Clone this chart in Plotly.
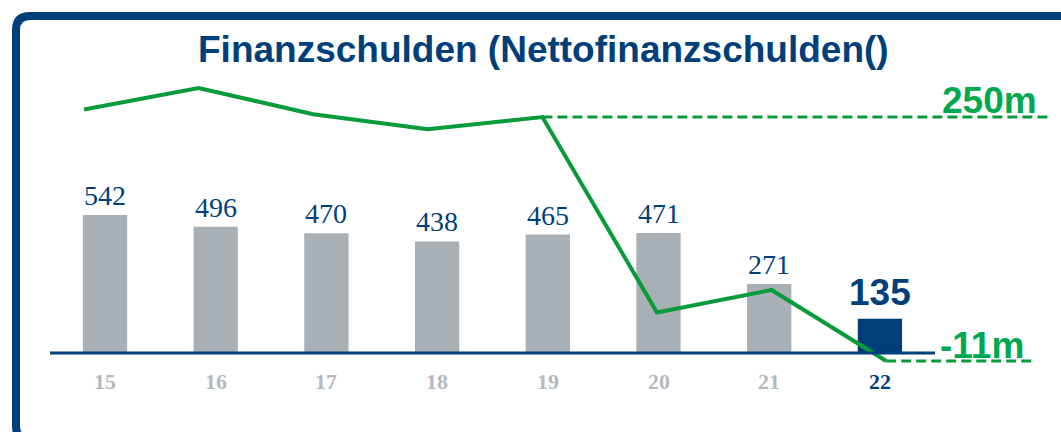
import plotly.graph_objects as go

# ---- data ----
years = ["15", "16", "17", "18", "19", "20", "21", "22"]
debt = [542, 496, 470, 438, 465, 471, 271, 135]
line_vals = [258, 281, 253, 237, 250, 41, 65, -11]
title_text = "Finanzschulden (Nettofinanzschulden()"
label_hi = "250m"
label_lo = "-11m"

W, H = 1061, 432
BLUE = "#003f7a"
GRAY = "#a8b0b6"
GREEN_LINE = "#079b3a"
GREEN_TXT = "#00a84f"

n = len(years)
xpos = list(range(n))
bar_colors = [GRAY] * (n - 1) + [BLUE]

fig = go.Figure()
fig.add_trace(go.Bar(x=xpos, y=debt, marker=dict(color=bar_colors, line=dict(width=0)),
                     width=0.4, xaxis="x", yaxis="y", hoverinfo="skip"))
fig.add_trace(go.Scatter(x=xpos, y=line_vals, mode="lines",
                         line=dict(color=GREEN_LINE, width=4), xaxis="x2", yaxis="y2",
                         hoverinfo="skip"))
# dashed guides from the 19 value and the 22 value
fig.add_trace(go.Scatter(x=[4, 8.43], y=[line_vals[4], line_vals[4]], mode="lines",
                         line=dict(color=GREEN_LINE, width=3, dash="10px,5px"),
                         xaxis="x2", yaxis="y2", hoverinfo="skip"))
fig.add_trace(go.Scatter(x=[7, 8.30], y=[line_vals[7], line_vals[7]], mode="lines",
                         line=dict(color=GREEN_LINE, width=3, dash="10px,5px"),
                         xaxis="x2", yaxis="y2", hoverinfo="skip"))

annotations = []
for i, v in enumerate(debt):
    last = i == n - 1
    annotations.append(dict(
        x=i, y=v, xref="x", yref="y",
        text=("<b>%d</b>" % v) if last else str(v), showarrow=False,
        yanchor="bottom", yshift=2 if not last else 4,
        font=dict(family="Liberation Sans" if last else "Liberation Serif",
                  size=37 if last else 28, color=BLUE)))
    annotations.append(dict(
        x=i, y=1 - 381 / H, xref="x", yref="paper",
        text="<b>%s</b>" % years[i], showarrow=False, yanchor="middle",
        font=dict(family="Liberation Serif", size=22, color=BLUE if last else "#b4b9be")))

annotations.append(dict(x=543 / W, y=1 - 50 / H, xref="paper", yref="paper",
                        text="<b>%s</b>" % title_text, showarrow=False,
                        xanchor="center", yanchor="middle",
                        font=dict(family="Liberation Sans", size=37, color=BLUE)))
annotations.append(dict(x=1039 / W, y=line_vals[4], xref="paper", yref="y2",
                        text="<b>%s</b>" % label_hi, showarrow=False, xanchor="right",
                        yanchor="middle", yshift=17,
                        font=dict(family="Liberation Sans", size=37, color=GREEN_TXT)))
annotations.append(dict(x=1026 / W, y=line_vals[7], xref="paper", yref="y2",
                        text="<b>%s</b>" % label_lo, showarrow=False, xanchor="right",
                        yanchor="middle", yshift=16,
                        font=dict(family="Liberation Sans", size=37, color=GREEN_TXT)))

def px(x):
    return x / W

def py(y):
    return 1 - y / H

r = 14
x0, y0 = 16, 16
yb = 440
border = (f"M {px(1080)},{py(y0)} L {px(x0 + r)},{py(y0)} "
          f"Q {px(x0)},{py(y0)} {px(x0)},{py(y0 + r)} "
          f"L {px(x0)},{py(yb - r)} Q {px(x0)},{py(yb)} {px(x0 + r)},{py(yb)} "
          f"L {px(1080)},{py(yb)}")
shapes = [
    dict(type="path", path=border, xref="paper", yref="paper",
         line=dict(color=BLUE, width=8)),
    dict(type="line", xref="paper", yref="y", x0=px(50), x1=px(935), y0=0, y1=0,
         line=dict(color=BLUE, width=3)),
]

fig.update_layout(
    width=W, height=H, margin=dict(l=0, r=0, t=0, b=0),
    paper_bgcolor="white", plot_bgcolor="white", showlegend=False,
    xaxis=dict(range=[-105 / 110.7, (W - 105) / 110.7], visible=False, fixedrange=True),
    yaxis=dict(range=[-(H - 353) / 0.2546, 353 / 0.2546], visible=False, fixedrange=True),
    xaxis2=dict(range=[-84 / 114.6, (W - 84) / 114.6], visible=False, overlaying="x",
                fixedrange=True),
    yaxis2=dict(range=[-11 - (H - 361) / 0.9349, 250 + 117 / 0.9349], visible=False,
                overlaying="y", fixedrange=True),
    annotations=annotations, shapes=shapes,
)

fig.write_html("out.html", config={"displayModeBar": False},
               post_script="document.body.style.margin='0';document.body.style.overflow='hidden';")
